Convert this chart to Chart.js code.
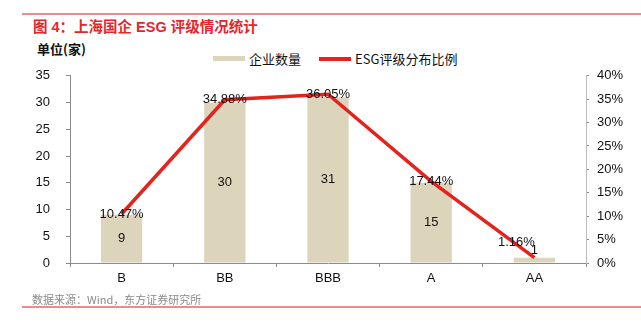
<!DOCTYPE html>
<html lang="zh">
<head>
<meta charset="UTF-8">
<title>上海国企 ESG 评级情况统计</title>
<script src="https://cdn.jsdelivr.net/npm/chart.js"></script>
<style>
    body {
        margin: 0;
        width: 641px;
        height: 326px;
        background: #fff;
        position: relative;
        overflow: hidden;
        font-family: "Liberation Sans", "Noto Sans CJK SC", sans-serif;
    }
    .rule {
        position: absolute;
        left: 22px;
        right: 0;
        height: 2px;
        background: #ee8a8a;
    }
    #title {
        position: absolute;
        left: 33px;
        top: 15px;
        font-size: 14.5px;
        font-weight: bold;
        color: #e3262b;
        font-family: "Liberation Sans", "Noto Sans CJK SC", sans-serif;
    }
    #unit {
        position: absolute;
        left: 37px;
        top: 39px;
        font-size: 13px;
        font-weight: bold;
        color: #111;
        font-family: "Noto Sans CJK SC", sans-serif;
    }
    #legend {
        position: absolute;
        left: 213px;
        top: 49px;
        font-size: 13px;
        color: #111;
        font-family: "Noto Sans CJK SC", sans-serif;
        display: flex;
        align-items: center;
    }
    #legend span.item { display: flex; align-items: center; margin-right: 18px; }
    #legend i { display: inline-block; width: 32px; margin-right: 4px; }
    #source {
        position: absolute;
        left: 32px;
        top: 291px;
        font-size: 11px;
        color: #8a8a8a;
        font-family: "Noto Sans CJK SC", sans-serif;
    }
    #chart { position: absolute; left: 0; top: 52px; }
</style>
</head>
<body>
<div class="rule" style="top:13px"></div>
<div id="title">图 4：上海国企 ESG 评级情况统计</div>
<div id="unit">单位(家)</div>
<div id="legend"></div>
<canvas id="chart" width="641" height="240"></canvas>
<div id="source">数据来源：Wind，东方证券研究所</div>
<div class="rule" style="top:306px"></div>

<script>
    const ratings = ['B', 'BB', 'BBB', 'A', 'AA'];
    const companyCount = [9, 30, 31, 15, 1];
    const ratingShare = [10.47, 34.88, 36.05, 17.44, 1.16]; // %
    const countTicks = { min: 0, max: 35, step: 5 };
    const shareTicks = { min: 0, max: 40, step: 5 };

    const barColor = '#ddd4bc';
    const lineColor = '#e3231c';
    const axisColor = '#8c8c8c';

    // legend drawn as html
    const legend = document.getElementById('legend');
    [['企业数量', barColor, 5], ['ESG评级分布比例', lineColor, 4]].forEach(([name, color, h]) => {
        const item = document.createElement('span');
        item.className = 'item';
        item.innerHTML = `<i style="height:${h}px;background:${color}"></i>${name}`;
        legend.appendChild(item);
    });

    // value labels: bar values in middle, shares on the line points
    const valueLabels = {
        id: 'valueLabels',
        afterDatasetsDraw(chart) {
            const ctx = chart.ctx;
            ctx.save();
            ctx.font = '13px "Liberation Sans", sans-serif';
            ctx.fillStyle = '#111';
            ctx.textAlign = 'center';
            ctx.textBaseline = 'middle';

            chart.getDatasetMeta(0).data.forEach((bar, i) => {
                const h = bar.base - bar.y;
                // too short to hold the number -> put it just above
                const y = h < 14 ? bar.y - 7 : (bar.y + bar.base) / 2;
                ctx.fillText(companyCount[i], bar.x, y);
            });
            chart.getDatasetMeta(1).data.forEach((pt, i) => {
                let dx = 0, dy = 0;
                if (i === ratingShare.length - 1) { dx = -18; dy = -15; }
                ctx.fillText(ratingShare[i].toFixed(2) + '%', pt.x + dx, pt.y + dy);
            });
            ctx.restore();
        }
    };

    const tickFont = { family: '"Liberation Sans", sans-serif', size: 13 };

    new Chart(document.getElementById('chart'), {
        data: {
            labels: ratings,
            datasets: [
                {
                    type: 'bar',
                    label: '企业数量',
                    data: companyCount,
                    backgroundColor: barColor,
                    barPercentage: 0.4,
                    categoryPercentage: 1,
                    yAxisID: 'y',
                    order: 1
                },
                {
                    type: 'line',
                    label: 'ESG评级分布比例',
                    data: ratingShare,
                    borderColor: lineColor,
                    backgroundColor: lineColor,
                    borderWidth: 3.5,
                    pointRadius: 0,
                    tension: 0,
                    yAxisID: 'y1',
                    order: 0
                }
            ]
        },
        options: {
            responsive: false,
            animation: false,
            layout: { padding: { top: 9, right: 0, bottom: 0, left: 0 } },
            plugins: {
                legend: { display: false },
                tooltip: { enabled: false }
            },
            scales: {
                x: {
                    grid: { drawOnChartArea: false, color: axisColor, tickLength: 4 },
                    border: { color: axisColor },
                    ticks: { color: '#111', font: tickFont, padding: 4 },
                    afterFit(scale) { scale.height = 29; }
                },
                y: {
                    position: 'left',
                    min: countTicks.min,
                    max: countTicks.max,
                    grid: { drawOnChartArea: false, color: axisColor, tickLength: 4 },
                    border: { color: axisColor },
                    ticks: { stepSize: countTicks.step, color: '#111', font: tickFont, padding: 16 },
                    afterFit(scale) { scale.width = 70; }
                },
                y1: {
                    position: 'right',
                    min: shareTicks.min,
                    max: shareTicks.max,
                    grid: { drawOnChartArea: false, color: axisColor, tickLength: 3 },
                    border: { color: '#bbb' },
                    ticks: {
                        stepSize: shareTicks.step,
                        color: '#111',
                        font: tickFont,
                        padding: 8,
                        callback: v => v + '%'
                    },
                    afterFit(scale) { scale.width = 55; }
                }
            }
        },
        plugins: [valueLabels]
    });
</script>
</body>
</html>
